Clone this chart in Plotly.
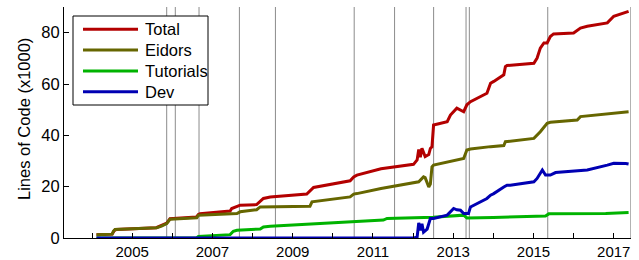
import plotly.graph_objects as go

# ---- data (decimal years, lines of code in thousands) ----
total_x = [2004.11, 2004.50, 2004.55, 2004.60, 2005.60, 2005.73, 2005.86, 2005.94, 2006.60, 2006.65,
           2006.69, 2007.44, 2007.48, 2007.69, 2008.10, 2008.27, 2008.44, 2009.35, 2009.48, 2009.52,
           2010.43, 2010.52, 2010.60, 2011.20, 2012.01, 2012.10, 2012.14, 2012.18, 2012.22, 2012.30,
           2012.39, 2012.43, 2012.47, 2012.51, 2012.85, 2012.93, 2013.09, 2013.26, 2013.34, 2013.43,
           2013.84, 2013.93, 2014.01, 2014.26, 2014.30, 2014.34, 2015.01, 2015.09, 2015.17, 2015.26,
           2015.34, 2015.42, 2015.50, 2016.00, 2016.17, 2016.34, 2016.84, 2017.00, 2017.37]
total_y = [1.3, 1.5, 2.8, 3.3, 4.0, 4.8, 5.8, 7.5, 8.2, 9.2,
           9.5, 10.5, 11.5, 12.8, 13.0, 15.4, 16.0, 17.1, 19.3, 19.7,
           22.3, 23.8, 24.5, 27.0, 28.7, 30.4, 34.5, 31.5, 35.0, 31.7,
           32.5, 34.9, 35.5, 44.0, 45.3, 47.9, 50.6, 49.2, 51.9, 53.1,
           56.4, 60.3, 61.0, 63.6, 66.8, 67.2, 68.1, 70.1, 74.0, 76.0,
           76.0, 78.5, 79.5, 79.9, 81.8, 82.5, 83.8, 86.4, 88.3]

eidors_x = [2004.11, 2004.50, 2004.53, 2004.57, 2005.61, 2005.73, 2005.86, 2005.94, 2006.61, 2006.65,
            2007.61, 2007.69, 2008.10, 2008.19, 2009.43, 2009.48, 2010.43, 2010.52, 2010.60, 2011.20,
            2012.14, 2012.26, 2012.30, 2012.39, 2012.43, 2012.47, 2012.51, 2013.26, 2013.34, 2013.43,
            2013.93, 2014.26, 2014.30, 2015.01, 2015.17, 2015.34, 2015.42, 2016.09, 2016.17, 2017.37]
eidors_y = [1.3, 1.5, 2.6, 3.3, 4.0, 4.6, 5.6, 7.3, 7.9, 8.9,
            9.5, 10.2, 11.0, 12.1, 12.4, 14.1, 16.0, 17.1, 17.3, 19.3,
            21.9, 23.8, 23.5, 19.9, 21.0, 27.7, 28.4, 31.0, 34.3, 34.7,
            35.6, 36.0, 37.5, 38.8, 41.4, 44.7, 45.1, 46.0, 47.3, 49.2]

tutorials_x = [2004.11, 2006.61, 2006.65, 2007.44, 2007.52, 2007.61, 2008.19, 2008.27, 2008.44, 2010.43,
               2010.52, 2011.26, 2011.35, 2012.50, 2013.26, 2013.34, 2014.00, 2015.30, 2015.38, 2016.80,
               2017.37]
tutorials_y = [0.0, 0.1, 0.6, 1.3, 2.6, 3.0, 3.5, 4.3, 4.6, 6.3,
               6.5, 7.0, 7.6, 8.1, 8.9, 7.8, 8.0, 8.6, 9.4, 9.5,
               9.9]

dev_x = [2004.11, 2012.01, 2012.10, 2012.12, 2012.14, 2012.18, 2012.22, 2012.26, 2012.35, 2012.43,
         2012.51, 2012.85, 2013.01, 2013.09, 2013.18, 2013.26, 2013.38, 2013.43, 2013.51, 2013.84,
         2013.93, 2014.01, 2014.26, 2014.34, 2014.42, 2015.01, 2015.09, 2015.22, 2015.30, 2015.42,
         2015.55, 2016.00, 2016.34, 2016.84, 2017.00, 2017.30, 2017.37]
dev_y = [0.0, 0.0, 0.3, 4.3, 5.9, 3.0, 5.5, 2.3, 3.5, 7.6,
         7.6, 8.9, 11.5, 11.0, 10.8, 9.5, 9.5, 12.1, 12.8, 15.4,
         16.7, 17.3, 19.9, 20.6, 20.6, 21.9, 23.2, 26.5, 24.5, 24.5,
         25.5, 26.0, 26.5, 28.4, 29.1, 29.0, 28.8]

releases = [2005.859, 2006.074, 2006.665, 2007.671, 2008.569, 2010.532, 2011.538,
            2012.511, 2013.319, 2013.401, 2015.355, 2017.426]

tick_years = list(range(2004, 2018))
tick_labels = [str(y) if y % 2 == 1 else "" for y in tick_years]
y_ticks = [0, 20, 40, 60, 80]

series_names = ["Total", "Eidors", "Tutorials", "Dev"]
series_x = [total_x, eidors_x, tutorials_x, dev_x]
series_y = [total_y, eidors_y, tutorials_y, dev_y]
series_colors = ["rgb(179,0,0)", "rgb(102,102,0)", "rgb(0,179,0)", "rgb(0,0,179)"]

FONT = "Liberation Sans, Arial, Helvetica, sans-serif"

# plot area in pixels (for legend placement)
W, H = 639, 260
ML, MR, MT, MB = 64, 8, 7, 22
PW, PH = W - ML - MR, H - MT - MB


def px_x(p):
    return (p - ML) / PW


def px_y(p):
    return (H - MB - p) / PH


fig = go.Figure()
for name, xs, ys, col in zip(series_names, series_x, series_y, series_colors):
    fig.add_trace(go.Scatter(x=xs, y=ys, name=name, mode="lines",
                             line=dict(color=col, width=3), showlegend=False))

for r in releases:
    fig.add_shape(type="line", xref="x", yref="paper", x0=r, x1=r, y0=0, y1=1,
                  line=dict(color="rgb(140,140,140)", width=1), layer="below")

# legend box (drawn like the MATLAB legend)
fig.add_shape(type="rect", xref="paper", yref="paper",
              x0=px_x(73), x1=px_x(208), y0=px_y(105), y1=px_y(16),
              fillcolor="white", line=dict(color="black", width=1), layer="above")
annotations = []
row0, row_step = 29.3, 20.8
for i, (name, col) in enumerate(zip(series_names, series_colors)):
    yy = px_y(row0 + i * row_step)
    fig.add_shape(type="line", xref="paper", yref="paper",
                  x0=px_x(83), x1=px_x(138), y0=yy, y1=yy,
                  line=dict(color=col, width=3), layer="above")
    annotations.append(dict(text=name, xref="paper", yref="paper", x=px_x(143), y=yy,
                            xanchor="left", yanchor="middle", showarrow=False,
                            font=dict(family=FONT, size=16.5, color="black")))

annotations.append(dict(text="Lines of Code (x1000)", textangle=-90, xref="paper", yref="paper",
                        x=px_x(23.5), y=px_y(119.5), xanchor="center", yanchor="middle",
                        showarrow=False, font=dict(family=FONT, size=16.5, color="black")))

fig.update_layout(
    width=W, height=H,
    margin=dict(l=ML, r=MR, t=MT, b=MB, autoexpand=False),
    paper_bgcolor="white", plot_bgcolor="white",
    font=dict(family=FONT, size=16, color="black"),
    showlegend=False,
    xaxis=dict(range=[2003.30, 2017.43], tickmode="array", tickvals=tick_years,
               ticktext=tick_labels, ticks="inside", ticklen=5, tickcolor="black",
               showline=True, linecolor="black", linewidth=1, showgrid=False,
               zeroline=False, tickfont=dict(size=15), automargin=False),
    yaxis=dict(range=[0, 90], tickmode="array", tickvals=y_ticks,
               ticks="inside", ticklen=5, tickcolor="black",
               showline=True, linecolor="black", linewidth=1, showgrid=False,
               zeroline=False, tickfont=dict(size=16.5), automargin=False),
    annotations=annotations,
)

fig.write_html("out.html", config={"displayModeBar": False},
               post_script="document.body.style.margin='0px';")
